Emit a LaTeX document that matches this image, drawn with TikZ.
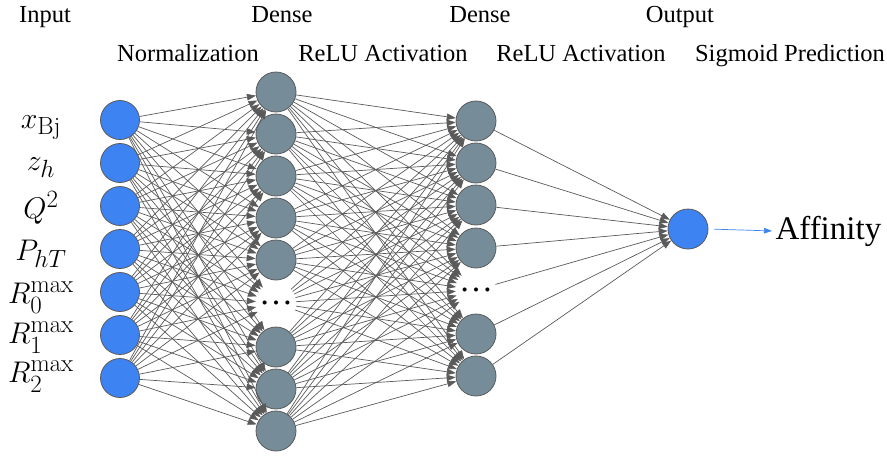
\documentclass[tikz,border=0pt]{standalone}
\usepackage{amsmath}
\usepackage{fontspec}
\usepackage{tikz}
\usetikzlibrary{arrows.meta}
\newfontfamily\timesfont{Liberation Serif}
\definecolor{inblue}{RGB}{61,131,241}
\definecolor{hidgray}{RGB}{118,141,153}
\definecolor{lingray}{RGB}{90,90,90}

\begin{document}
\begin{tikzpicture}[x=1pt,y=-1pt,
  unit/.style={circle,draw=lingray,line width=0.8pt,minimum size=40pt,inner sep=0pt},
  inunit/.style={unit,fill=inblue,minimum size=39pt},
  hidunit/.style={unit,fill=hidgray},
  dotunit/.style={circle,minimum size=40pt,inner sep=0pt,font=\timesfont\fontsize{34}{34}\selectfont},
  wire/.style={draw=lingray,line width=0.7pt,-{Triangle[length=9pt,width=6.5pt]}},
  title/.style={font=\timesfont\fontsize{24.5}{26}\selectfont,anchor=base},
  varname/.style={font=\Huge,scale=1.2,inner sep=0pt,anchor=base}]

\useasboundingbox (0,0) rectangle (887,456);

\pgfmathsetmacro{\XI}{120}
\pgfmathsetmacro{\XA}{276}
\pgfmathsetmacro{\XB}{476}
\pgfmathsetmacro{\XO}{688}

% input layer
\foreach \i/\y/\b/\lab in {1/120/128/x_{\mathrm{Bj}},2/163/170/z_h,3/206/218/Q^2,4/249/260/P_{hT},5/292/303/R_0^{\max},6/335/343/R_1^{\max},7/378/382/R_2^{\max}}{
  \node[inunit] (in\i) at (\XI,\y) {};
  \node[varname] (lab\i) at (41,\b) {$\lab$};
}

% first dense layer
\foreach \j/\y in {1/92,2/134,3/176,4/218,5/260,7/347,8/389,9/431}
  \node[hidunit] (ha\j) at (\XA,\y) {};
\node[dotunit] (ha6) at (\XA,303) {\textellipsis};

% second dense layer
\foreach \j/\y in {1/121,2/163,3/205,4/248,6/334,7/376}
  \node[hidunit] (hb\j) at (\XB,\y) {};
\node[dotunit] (hb5) at (\XB,290) {\textellipsis};

% output
\node[unit,fill=inblue] (out) at (\XO,229) {};
\node[font=\timesfont\fontsize{33}{35}\selectfont,anchor=base west] (aff) at (772,239) {Affinity};
\draw[draw=inblue,line width=0.7pt,-{Triangle[length=8pt,width=5.5pt]},shorten <=6pt] (out.east) -- (aff.west);

% connections
\foreach \i in {1,...,7}
  \foreach \j in {1,...,9}
    \draw[wire] (in\i) -- (ha\j);
\foreach \j in {1,...,9}
  \foreach \k in {1,...,7}
    \draw[wire] (ha\j) -- (hb\k);
\foreach \k in {1,...,7}
  \draw[wire] (hb\k) -- (out);

% layer titles
\node[title] (tin) at (45,22) {Input};
\node[title] (td1) at (282,22) {Dense};
\node[title] (td2) at (480,22) {Dense};
\node[title] (tout) at (680,22) {Output};
\node[title] (tnorm) at (188,61) {Normalization};
\node[title] (trelu1) at (383,61) {ReLU Activation};
\node[title] (trelu2) at (581,61) {ReLU Activation};
\node[title] (tsig) at (790,61) {Sigmoid Prediction};
\end{tikzpicture}
\end{document}
